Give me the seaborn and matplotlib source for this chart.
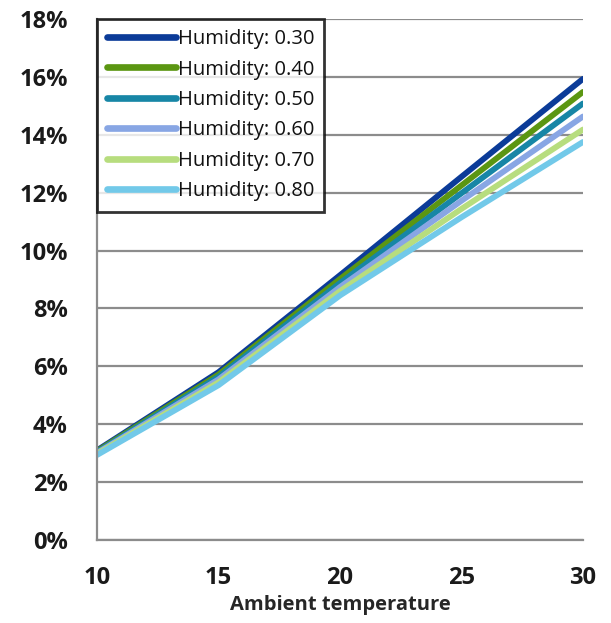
import numpy as np
import pandas as pd
import matplotlib
matplotlib.use("Agg")
import matplotlib.pyplot as plt
import seaborn as sns

temps = [10, 15, 20, 25, 30]
h030 = [3.10, 5.80, 9.15, 12.55, 15.93]
h040 = [3.07, 5.72, 9.02, 12.25, 15.48]
h050 = [3.04, 5.64, 8.88, 11.98, 15.08]
h060 = [3.01, 5.55, 8.74, 11.72, 14.63]
h070 = [2.98, 5.45, 8.60, 11.44, 14.18]
h080 = [2.94, 5.35, 8.45, 11.15, 13.75]
labels = ["Humidity: 0.30", "Humidity: 0.40", "Humidity: 0.50",
          "Humidity: 0.60", "Humidity: 0.70", "Humidity: 0.80"]
colors = ["#0b3b98", "#5b9612", "#1786a6", "#88a6e4", "#b7dd7e", "#72c9e9"]
series = [h030, h040, h050, h060, h070, h080]

rows = []
for lab, vals in zip(labels, series):
    for t, v in zip(temps, vals):
        rows.append({"temp": t, "value": v / 100.0, "series": lab})
df = pd.DataFrame(rows)

sns.set_style("white")
plt.rcParams["font.family"] = ["Open Sans", "DejaVu Sans"]

fig = plt.figure(figsize=(6.11, 6.23), dpi=100)
ax = fig.add_axes([0.159, 0.1332, 0.795, 0.8363])

sns.lineplot(data=df, x="temp", y="value", hue="series", hue_order=labels,
             palette=dict(zip(labels, colors)), linewidth=4.2, ax=ax,
             solid_capstyle="round", legend=True)

ax.set_xlim(10, 30)
ax.set_ylim(0, 0.18)
ax.set_xticks([10, 15, 20, 25, 30])
ax.set_yticks(np.arange(0, 0.181, 0.02))
ax.set_yticklabels([f"{int(round(v*100))}%" for v in np.arange(0, 0.181, 0.02)])
ax.tick_params(axis="both", length=0, labelsize=17, colors="#1a1a1a")
ax.tick_params(axis="x", pad=19)
ax.tick_params(axis="y", pad=21)
for lab in ax.get_xticklabels() + ax.get_yticklabels():
    lab.set_fontweight("bold")
ax.yaxis.grid(True, color="#8c8c8c", linewidth=1.6)
ax.xaxis.grid(False)
ax.set_axisbelow(True)
for s in ["top", "right"]:
    ax.spines[s].set_visible(False)
for s in ["left", "bottom"]:
    ax.spines[s].set_color("#8c8c8c")
    ax.spines[s].set_linewidth(1.6)
ax.set_xlabel("Ambient temperature", fontsize=14.5, fontweight="bold", labelpad=3)
ax.set_ylabel("")

handles, labs = ax.get_legend_handles_labels()
leg = ax.legend(handles, labs, loc="upper left", bbox_to_anchor=(0.0, 1.0),
                borderaxespad=0, frameon=True, fancybox=False, fontsize=14.5,
                handlelength=3.4, handletextpad=0.1, labelspacing=0.52,
                borderpad=0.5)
leg.get_frame().set_edgecolor("black")
leg.get_frame().set_linewidth(2)
for t in leg.get_texts():
    t.set_color("#111111")
for h in leg.get_lines():
    h.set_linewidth(4.8)
    h.set_solid_capstyle("round")

fig.savefig("out.png", dpi=100)
